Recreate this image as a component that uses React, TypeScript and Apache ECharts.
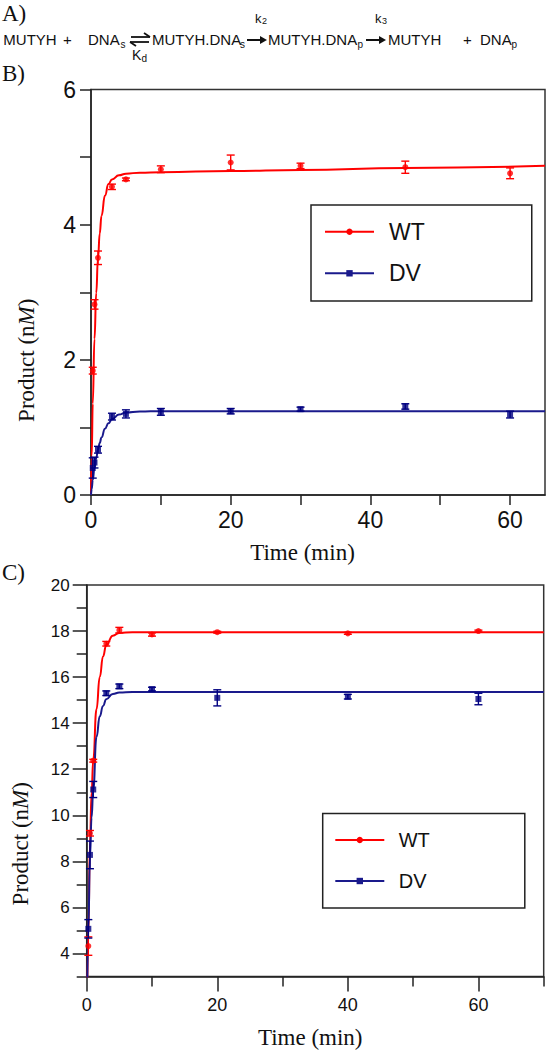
import React, { useEffect, useRef } from 'react';
import * as echarts from 'echarts';

// ---------- Panel B data ----------
const B_TIMES = [0.25, 0.5, 1, 3, 5, 10, 20, 30, 45, 60];
const B_WT = [1.84, 2.82, 3.51, 4.56, 4.67, 4.82, 4.92, 4.87, 4.85, 4.76];
const B_WT_ERR = [0.05, 0.07, 0.1, 0.04, 0.02, 0.05, 0.11, 0.04, 0.09, 0.08];
const B_DV = [0.4, 0.48, 0.67, 1.16, 1.2, 1.23, 1.24, 1.27, 1.31, 1.19];
const B_DV_ERR = [0.15, 0.08, 0.05, 0.05, 0.06, 0.05, 0.04, 0.03, 0.04, 0.05];

const B_FIT_T = [0, 0.1, 0.25, 0.5, 0.75, 1, 1.25, 1.5, 2, 2.5, 3, 4, 5, 7, 10, 20, 30, 45, 65];
const B_WT_FIT = [0, 0.58, 1.35, 2.31, 2.99, 3.5, 3.87, 4.13, 4.43, 4.6, 4.67, 4.73, 4.755, 4.77, 4.775, 4.795, 4.81, 4.84, 4.87];
const B_DV_FIT = [0, 0.09, 0.22, 0.4, 0.55, 0.67, 0.77, 0.85, 0.98, 1.06, 1.12, 1.19, 1.22, 1.235, 1.24, 1.24, 1.24, 1.24, 1.24];

const B_X_TICKS = [0, 10, 20, 30, 40, 50, 60];
const B_X_LABELS = [0, 20, 40, 60];
const B_Y_TICKS = [0, 1, 2, 3, 4, 5, 6];
const B_Y_LABELS = [0, 2, 4, 6];

// ---------- Panel C data ----------
const C_TIMES = [0.25, 0.5, 1, 3, 5, 10, 20, 40, 60];
const C_WT = [4.32, 9.22, 12.37, 17.45, 18.04, 17.85, 17.95, 17.9, 18.0];
const C_WT_ERR = [0.4, 0.12, 0.06, 0.1, 0.12, 0.07, 0.04, 0.04, 0.04];
const C_DV = [5.07, 8.28, 11.12, 15.3, 15.6, 15.48, 15.1, 15.15, 15.05];
const C_DV_ERR = [0.4, 0.6, 0.35, 0.1, 0.1, 0.08, 0.35, 0.1, 0.25];

const C_FIT_T = [0, 0.25, 0.5, 0.75, 1, 1.5, 2, 2.5, 3, 4, 5, 7, 10, 20, 40, 70];
const C_WT_FIT = [0, 4.8, 8.8, 11.0, 12.4, 14.6, 16.0, 16.9, 17.4, 17.8, 17.92, 17.95, 17.95, 17.95, 17.95, 17.95];
const C_DV_FIT = [0, 5.0, 8.2, 9.9, 11.1, 13.4, 14.3, 14.75, 15.04, 15.27, 15.33, 15.35, 15.35, 15.35, 15.35, 15.35];

const C_X_MAJOR = [0, 20, 40, 60];
const C_X_MINOR = [10, 30, 50, 70];
const C_Y_MAJOR = [4, 6, 8, 10, 12, 14, 16, 18, 20];
const C_Y_MINOR = [3, 5, 7, 9, 11, 13, 15, 17, 19];

const RED = '#ff0000';
const NAVY = '#000080';
const NAVY_LINE = '#1a1a8c';
const INK = '#111111';
const SANS = 'Liberation Sans';
const SERIF = 'Liberation Serif';

function zip(ts: number[], vs: number[]) {
  return ts.map((t, i) => [t, vs[i]]);
}

function errSeries(name: string, ts: number[], vs: number[], es: number[], color: string, xi: number, yi: number, cap: number) {
  return {
    type: 'custom',
    name,
    xAxisIndex: xi,
    yAxisIndex: yi,
    silent: true,
    z: 3,
    data: ts.map((t, i) => [t, vs[i] - es[i], vs[i] + es[i]]),
    encode: { x: 0, y: [1, 2] },
    renderItem: (params: any, api: any) => {
      const x = api.value(0);
      const lo = api.coord([x, api.value(1)]);
      const hi = api.coord([x, api.value(2)]);
      const st = { stroke: color, lineWidth: 1.4 };
      return {
        type: 'group',
        children: [
          { type: 'line', shape: { x1: lo[0], y1: lo[1], x2: hi[0], y2: hi[1] }, style: st },
          { type: 'line', shape: { x1: lo[0] - cap, y1: lo[1], x2: lo[0] + cap, y2: lo[1] }, style: st },
          { type: 'line', shape: { x1: hi[0] - cap, y1: hi[1], x2: hi[0] + cap, y2: hi[1] }, style: st },
        ],
      };
    },
  };
}

function fitSeries(name: string, ts: number[], vs: number[], color: string, symbol: string, xi: number, yi: number) {
  return {
    type: 'line',
    name,
    xAxisIndex: xi,
    yAxisIndex: yi,
    data: zip(ts, vs),
    symbol,
    symbolSize: 7,
    showSymbol: false,
    smooth: true,
    smoothMonotone: 'x',
    clip: true,
    lineStyle: { color, width: 2 },
    itemStyle: { color },
    z: 2,
  };
}

function ptSeries(name: string, ts: number[], vs: number[], color: string, symbol: string, size: number, xi: number, yi: number) {
  return {
    type: 'scatter',
    name,
    xAxisIndex: xi,
    yAxisIndex: yi,
    data: zip(ts, vs),
    symbol,
    symbolSize: size,
    itemStyle: { color },
    z: 4,
  };
}

function txt(x: number, y: number, text: string, size: number, family = SANS, extra: any = {}) {
  return {
    type: 'text',
    x,
    y,
    style: { text, fontSize: size, fontFamily: family, fill: INK, align: 'left', verticalAlign: 'middle', ...extra },
  };
}

function arrow(x1: number, x2: number, y: number) {
  return [
    { type: 'line', shape: { x1, y1: y, x2: x2 - 4, y2: y }, style: { stroke: INK, lineWidth: 2 } },
    { type: 'polygon', shape: { points: [[x2, y], [x2 - 7, y - 4], [x2 - 7, y + 4]] }, style: { fill: INK } },
  ];
}

const graphics: any[] = [
  txt(2, 13, 'A)', 23, SERIF),
  txt(3.3, 39, 'MUTYH', 15),
  txt(63, 39, '+', 15),
  txt(88, 39, 'DNA', 15),
  txt(120.5, 44, 's', 10),
  // equilibrium arrows
  { type: 'line', shape: { x1: 131, y1: 37, x2: 150, y2: 37 }, style: { stroke: INK, lineWidth: 1.8 } },
  { type: 'polyline', shape: { points: [[144, 33], [150, 37]] }, style: { stroke: INK, lineWidth: 1.8 } },
  { type: 'line', shape: { x1: 130, y1: 42, x2: 149, y2: 42 }, style: { stroke: INK, lineWidth: 1.8 } },
  { type: 'polyline', shape: { points: [[130, 42], [136, 46]] }, style: { stroke: INK, lineWidth: 1.8 } },
  txt(132, 55, 'K', 14),
  txt(141.5, 58, 'd', 10),
  txt(152, 39, 'MUTYH.DNA', 15),
  txt(240, 44, 's', 10),
  ...arrow(247, 267, 40),
  txt(255, 18, 'k', 13),
  txt(262, 21, '2', 9),
  txt(268, 39, 'MUTYH.DNA', 15),
  txt(357.5, 44, 'p', 10),
  ...arrow(366, 386, 40),
  txt(375, 18, 'k', 13),
  txt(382, 21, '3', 9),
  txt(388, 39, 'MUTYH', 15),
  txt(463, 39, '+', 15),
  txt(480, 39, 'DNA', 15),
  txt(511.5, 44, 'p', 10),
  txt(2, 73, 'B)', 23, SERIF),
  txt(2, 572, 'C)', 23, SERIF),
];

const axisLine = { show: true, onZero: false, lineStyle: { color: '#222', width: 1.5 } };

function buildOption() {
  return {
    animation: false,
    backgroundColor: '#ffffff',
    graphic: graphics,
    grid: [
      { left: 91, top: 89.5, width: 454, height: 405.5, show: true, borderColor: '#333', borderWidth: 1.5, containLabel: false },
      { left: 86.7, top: 585, width: 457, height: 392, show: true, borderColor: '#333', borderWidth: 1.5, containLabel: false },
    ],
    legend: [
      {
        orient: 'vertical',
        left: 311,
        top: 205,
        data: ['WT', 'DV'],
        itemWidth: 49,
        itemHeight: 8,
        itemGap: 18.6,
        padding: [15.2, 107, 16.2, 13],
        borderColor: '#222',
        borderWidth: 1.5,
        selectedMode: false,
        textStyle: { fontFamily: SANS, fontSize: 23, color: INK, padding: [0, 0, 0, 10] },
      },
      {
        orient: 'vertical',
        left: 322.7,
        top: 813.5,
        data: ['WT', 'DV'],
        itemWidth: 49,
        itemHeight: 8,
        itemGap: 21,
        padding: [16.5, 95, 17, 11.6],
        borderColor: '#222',
        borderWidth: 1.5,
        selectedMode: false,
        textStyle: { fontFamily: SANS, fontSize: 20, color: INK, padding: [0, 0, 0, 9.4] },
      },
    ],
    xAxis: [
      {
        type: 'value', gridIndex: 0, min: 0, max: 65, position: 'bottom',
        axisLine,
        axisTick: { show: true, inside: false, length: 10, customValues: B_X_TICKS, lineStyle: { color: '#222', width: 1.5 } },
        axisLabel: { customValues: B_X_LABELS, fontFamily: SANS, fontSize: 23, color: INK, margin: 13 },
        splitLine: { show: false },
        name: 'Time (min)', nameLocation: 'middle', nameGap: 46,
        nameTextStyle: { fontFamily: SERIF, fontSize: 23, color: INK, padding: [0, 31, 0, 0] },
      },
      {
        type: 'value', gridIndex: 1, min: 0, max: 70, position: 'bottom',
        axisLine,
        axisTick: { show: true, inside: false, length: 15, customValues: C_X_MAJOR, lineStyle: { color: '#222', width: 1.5 } },
        axisLabel: { customValues: C_X_MAJOR, fontFamily: SANS, fontSize: 18, color: INK, margin: 19 },
        splitLine: { show: false },
        name: 'Time (min)', nameLocation: 'middle', nameGap: 49.5,
        nameTextStyle: { fontFamily: SERIF, fontSize: 23, color: INK, padding: [0, 10, 0, 0] },
      },
      {
        type: 'value', gridIndex: 1, min: 0, max: 70, position: 'bottom', offset: 0,
        axisLine: { show: false, onZero: false },
        axisTick: { show: true, inside: false, length: 10, customValues: C_X_MINOR, lineStyle: { color: '#222', width: 1.5 } },
        axisLabel: { show: false },
        splitLine: { show: false },
      },
    ],
    yAxis: [
      {
        type: 'value', gridIndex: 0, min: 0, max: 6, position: 'left',
        axisLine,
        axisTick: { show: true, inside: false, length: 11, customValues: B_Y_TICKS, lineStyle: { color: '#222', width: 1.5 } },
        axisLabel: { customValues: B_Y_LABELS, fontFamily: SANS, fontSize: 23, color: INK, margin: 15 },
        splitLine: { show: false },
        name: 'Product (n{i|M})', nameLocation: 'middle', nameGap: 53, nameRotate: 90,
        nameTextStyle: {
          fontFamily: SERIF, fontSize: 23, color: INK, padding: [0, 136, 0, 0],
          rich: { i: { fontFamily: SERIF, fontSize: 23, fontStyle: 'italic', color: INK } },
        },
      },
      {
        type: 'value', gridIndex: 1, min: 3, max: 20, position: 'left',
        axisLine,
        axisTick: { show: true, inside: false, length: 14, customValues: C_Y_MAJOR, lineStyle: { color: '#222', width: 1.5 } },
        axisLabel: { customValues: C_Y_MAJOR, fontFamily: SANS, fontSize: 17, color: INK, margin: 17 },
        splitLine: { show: false },
        name: 'Product (n{i|M})', nameLocation: 'middle', nameGap: 55, nameRotate: 90,
        nameTextStyle: {
          fontFamily: SERIF, fontSize: 23, color: INK, padding: [0, 126, 0, 0],
          rich: { i: { fontFamily: SERIF, fontSize: 23, fontStyle: 'italic', color: INK } },
        },
      },
      {
        type: 'value', gridIndex: 1, min: 3, max: 20, position: 'left', offset: 0,
        axisLine: { show: false, onZero: false },
        axisTick: { show: true, inside: false, length: 10, customValues: C_Y_MINOR, lineStyle: { color: '#222', width: 1.5 } },
        axisLabel: { show: false },
        splitLine: { show: false },
      },
    ],
    series: [
      fitSeries('WT', B_FIT_T, B_WT_FIT, RED, 'circle', 0, 0),
      fitSeries('DV', B_FIT_T, B_DV_FIT, NAVY_LINE, 'rect', 0, 0),
      errSeries('WT error B', B_TIMES, B_WT, B_WT_ERR, RED, 0, 0, 4),
      errSeries('DV error B', B_TIMES, B_DV, B_DV_ERR, NAVY, 0, 0, 4),
      ptSeries('WT points B', B_TIMES, B_WT, RED, 'circle', 6, 0, 0),
      ptSeries('DV points B', B_TIMES, B_DV, NAVY, 'rect', 6, 0, 0),

      fitSeries('WT', C_FIT_T, C_WT_FIT, RED, 'circle', 1, 1),
      fitSeries('DV', C_FIT_T, C_DV_FIT, NAVY_LINE, 'rect', 1, 1),
      errSeries('WT error C', C_TIMES, C_WT, C_WT_ERR, RED, 1, 1, 4),
      errSeries('DV error C', C_TIMES, C_DV, C_DV_ERR, NAVY, 1, 1, 4),
      ptSeries('WT points C', C_TIMES, C_WT, RED, 'circle', 6, 1, 1),
      ptSeries('DV points C', C_TIMES, C_DV, NAVY, 'rect', 6, 1, 1),
    ],
  };
}

export default function App() {
  const ref = useRef<HTMLDivElement>(null);
  useEffect(() => {
    if (!ref.current) return;
    const chart = echarts.init(ref.current, null, { renderer: 'svg' });
    chart.setOption(buildOption() as any);
    return () => chart.dispose();
  }, []);
  return (
    <div
      ref={ref}
      style={{ position: 'absolute', left: 0, top: 0, width: 546, height: 1050, background: '#fff' }}
    />
  );
}
